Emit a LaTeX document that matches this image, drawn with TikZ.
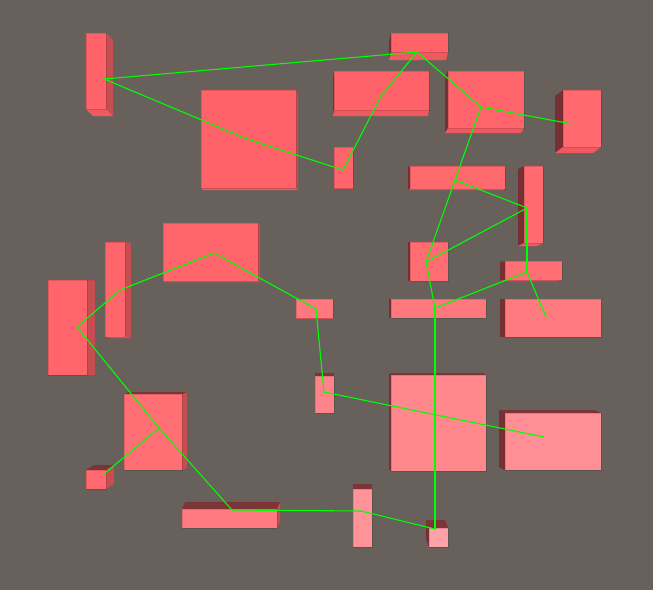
\documentclass[tikz,border=0pt]{standalone}
\usepackage{tikz}
\definecolor{Fondo}{RGB}{103,96,91}
\definecolor{Rosa}{RGB}{255,98,104}
\definecolor{RosaClaro}{RGB}{255,168,172}
\definecolor{LadoMedio}{RGB}{198,78,82}
\definecolor{LadoOscuro}{RGB}{118,48,52}
\definecolor{LadoTecho}{RGB}{124,52,55}
\definecolor{LadoClaro}{RGB}{238,90,96}
\definecolor{Verde}{RGB}{0,255,0}

\begin{document}
\begin{tikzpicture}[
        x=1pt, y=-1pt,
        cara/.style={
            draw=black,
            draw opacity=0.12,
            line width=0.6pt
        },
        enlace/.style={
            draw=Verde,
            line width=1.1pt,
            line cap=round,
            line join=round
        }
    ]
        % Background (653 x 590)
        \useasboundingbox (0,0) rectangle (653,590);
        \fill[Fondo] (0,0) rectangle (653,590);

        % Rooms: x1/y1/x2/y2 of the top face, offset of the base, tint of the top
        \foreach \xa/\ya/\xb/\yb/\ox/\oy/\tono in {
            86/33/106/109/7/7/0, 391/33/448/52/-2/8/0, 334/71/429/110/-1/6/2,
            448/71/524/128/-3/5/5, 201/90/296/188/2/2/0, 563/90/601/147/-8/6/10,
            334/147/353/188/0/1/5, 410/166/505/189/-2/1/8, 524/166/543/243/-6/3/13,
            163/223/258/281/2/1/5, 105/242/125/337/6/1/5, 410/242/448/281/-2/0/15,
            505/261/562/280/-5/1/18, 48/280/87/375/8/0/5, 296/299/333/318/0/1/32,
            391/299/486/318/-2/0/32, 505/299/601/337/-5/0/35, 315/376/334/413/0/-3/48,
            391/375/486/471/-2/-2/55, 124/394/182/470/5/-2/18, 505/413/601/470/-6/-3/65,
            86/470/106/489/8/-5/10, 182/509/277/528/3/-7/35, 353/489/372/547/0/-5/70,
            429/528/448/547/-3/-8/92} {
            \pgfmathsetmacro\ex{\ox>0 ? \xb : \xa}
            \pgfmathsetmacro\ey{\oy>0 ? \yb : \ya}
            \pgfmathtruncatemacro\mx{\ox>0 ? 100 : 0}
            \pgfmathtruncatemacro\my{\oy>0 ? 100 : 0}
            \fill[LadoMedio!\mx!LadoOscuro] (\ex,\ya) -- ++(\ox,\oy) -- (\ex+\ox,\yb+\oy) -- (\ex,\yb) -- cycle;
            \fill[LadoClaro!\my!LadoTecho] (\xa,\ey) -- ++(\ox,\oy) -- (\xb+\ox,\ey+\oy) -- (\xb,\ey) -- cycle;
            \filldraw[cara, fill=RosaClaro!\tono!Rosa] (\xa,\ya) rectangle (\xb,\yb);
        }

        % Room centres
        \coordinate (s1) at (104,79);
        \coordinate (s2) at (417,52);
        \coordinate (s3) at (381,96);
        \coordinate (s4) at (481,107);
        \coordinate (s5) at (247,139);
        \coordinate (s6) at (572,124);
        \coordinate (s7) at (343,170);
        \coordinate (s8) at (455,180);
        \coordinate (s9) at (527,208);
        \coordinate (s10) at (214,253);
        \coordinate (s11) at (120,290);
        \coordinate (s12) at (426,262);
        \coordinate (s13) at (527,272);
        \coordinate (s14) at (77,327);
        \coordinate (s15) at (316,309);
        \coordinate (s16) at (435,308);
        \coordinate (s17) at (546,317);
        \coordinate (s18) at (324,392);
        \coordinate (s19) at (544,437);
        \coordinate (s20) at (159,428);
        \coordinate (s21) at (104,474);
        \coordinate (s22) at (232,510);
        \coordinate (s23) at (361,511);
        \coordinate (s24) at (435,529);

        % Corridors
        \foreach \u/\v in {s1/s2, s1/s5, s5/s7, s7/s3, s3/s2, s2/s4, s4/s6, s4/s8,
            s8/s9, s8/s12, s9/s12, s9/s13, s13/s17, s13/s16, s12/s16, s16/s24,
            s23/s24, s22/s23, s20/s22, s21/s20, s14/s20, s14/s11, s11/s10,
            s10/s15, s15/s18, s18/s19}
            \draw[enlace] (\u) -- (\v);
    \end{tikzpicture}
\end{document}
